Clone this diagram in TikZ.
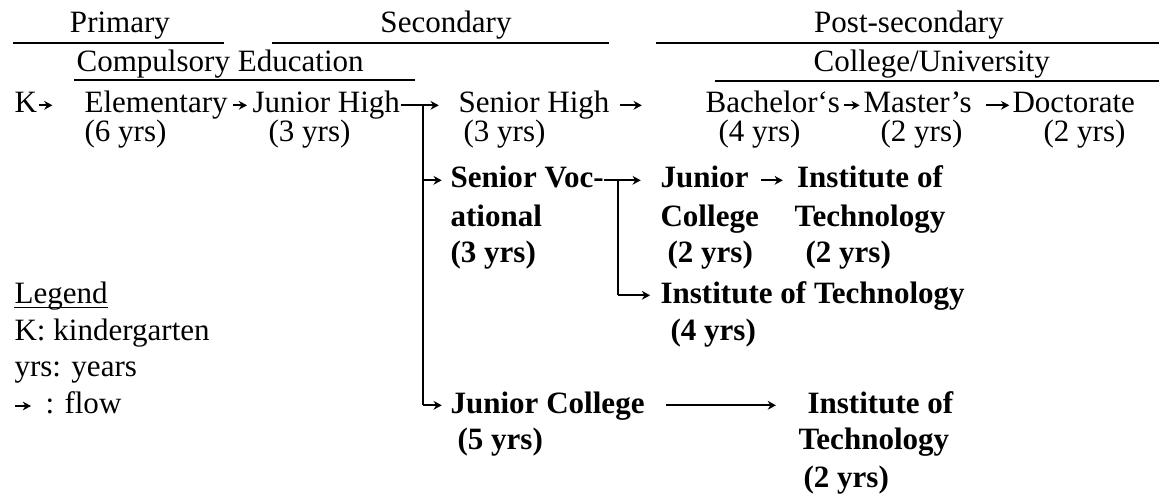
\documentclass[tikz,border=0pt]{standalone}
\usepackage{fontspec}
\setmainfont{Liberation Serif}
\usetikzlibrary{arrows.meta}

\begin{document}
\begin{tikzpicture}[x=0.364pt, y=-0.364pt,
    lbl/.style={inner sep=0pt, anchor=base west, text height=8pt, text depth=2.4pt, font=\fontsize{11.3}{13.5}\selectfont},
    head/.style={lbl, anchor=base},
    voc/.style={lbl, font=\fontsize{11.3}{13.5}\selectfont\bfseries},
    vochead/.style={voc, anchor=base},
    flow/.style={-{Stealth[length=3pt, width=3.2pt]}, line width=0.7pt},
    rule/.style={line width=0.55pt}]
    \useasboundingbox (0,0) rectangle (1159,497);

    % Levels
    \node[head] (prim) at (120,33) {Primary};
    \node[head] (sec) at (446,33) {Secondary};
    \node[head] (post) at (909,33) {Post-secondary};
    \draw[rule] (13,43) -- (224,43);
    \draw[rule] (272,43) -- (609,43);
    \draw[rule] (656,43) -- (1159,43);
    \node[lbl] (comp) at (76,72) {Compulsory Education};
    \node[lbl] (coll) at (813,72) {College/University};
    \draw[rule] (74,80) -- (415,80);
    \draw[rule] (715,81) -- (1159,81);

    % Academic track
    \node[lbl] (k) at (14,113) {K};
    \node[lbl] (elem) at (84,113) {Elementary};
    \node[lbl] (jh) at (252,113) {Junior High};
    \node[lbl] (shigh) at (458,113) {Senior High};
    \node[lbl] (bach) at (705,113) {Bachelor‘s};
    \node[lbl] (mast) at (863,113) {Master’s};
    \node[lbl] (doct) at (1012,113) {Doctorate};
    \node[lbl] (elemy) at (84,142) {(6 yrs)};
    \node[lbl] (jhy) at (268,142) {(3 yrs)};
    \node[lbl] (shighy) at (463,142) {(3 yrs)};
    \node[lbl] (bachy) at (718,142) {(4 yrs)};
    \node[lbl] (masty) at (880,142) {(2 yrs)};
    \node[lbl] (docty) at (1043,142) {(2 yrs)};

    % Vocational track
    \node[voc] (svoc) at (450,188) {Senior Voc-};
    \node[voc] (svoc2) at (450,227) {ational};
    \node[voc] (svocy) at (450,263) {(3 yrs)};
    \node[voc] (jun) at (660,188) {Junior};
    \node[voc] (jun2) at (660,227) {College};
    \node[voc] (juny) at (667,263) {(2 yrs)};
    \node[vochead] (ita) at (870,188) {Institute of};
    \node[vochead] (ita2) at (870,227) {Technology};
    \node[voc] (itay) at (805,263) {(2 yrs)};
    \node[voc] (itb) at (660,303) {Institute of Technology};
    \node[voc] (itby) at (670,340) {(4 yrs)};
    \node[voc] (jcol) at (450,413) {Junior College};
    \node[voc] (jcoly) at (457,450) {(5 yrs)};
    \node[voc] (itc) at (807,413) {Institute of};
    \node[voc] (itc2) at (798,450) {Technology};
    \node[voc] (itcy) at (803,487) {(2 yrs)};

    % Legend
    \node[lbl] (leg) at (14,303) {Legend};
    \draw[rule] ([yshift=-1.6pt]leg.base west) -- ([yshift=-1.6pt]leg.base east);
    \node[lbl] (legk) at (14,340) {K: kindergarten};
    \node[lbl] (legy) at (14,377) {yrs: years};
    \node[lbl] (legf) at (45,413) {: flow};
    \coordinate (fa) at (15,406);
    \coordinate (fb) at (31,406);
    \draw[flow] (fa) -- (fb);

    % Flows
    \coordinate (bus1) at (423,113);
    \coordinate (bus2) at (618,188);
    \draw[flow, shorten <=0.5pt, shorten >=11.5pt] (k) -- (elem);
    \draw[flow, shorten <=1.8pt, shorten >=1.8pt] (elem) -- (jh);
    \draw[flow, shorten >=7pt] (jh) -- (shigh);
    \draw[flow, shorten <=3.5pt, shorten >=23pt] (shigh) -- (bach);
    \draw[flow, shorten <=1.2pt, shorten >=1.2pt] (bach) -- (mast);
    \draw[flow, shorten <=5pt, shorten >=1pt] (mast) -- (doct);
    \draw[line width=0.7pt] (jh.east -| bus1) -- (jcol.west -| bus1);
    \draw[flow, shorten >=3pt] (svoc.west -| bus1) -- (svoc.west);
    \draw[flow, shorten >=3pt] (jcol.west -| bus1) -- (jcol.west);
    \draw[flow, shorten >=7pt] (svoc) -- (jun);
    \draw[line width=0.7pt] (svoc.east -| bus2) -- (itb.west -| bus2);
    \draw[flow, shorten >=3.6pt] (itb.west -| bus2) -- (itb.west);
    \draw[flow, shorten <=4.5pt, shorten >=5pt] (jun) -- (ita);
    \draw[flow, shorten <=7.6pt, shorten >=11.3pt] (jcol) -- (itc);
\end{tikzpicture}
\end{document}
